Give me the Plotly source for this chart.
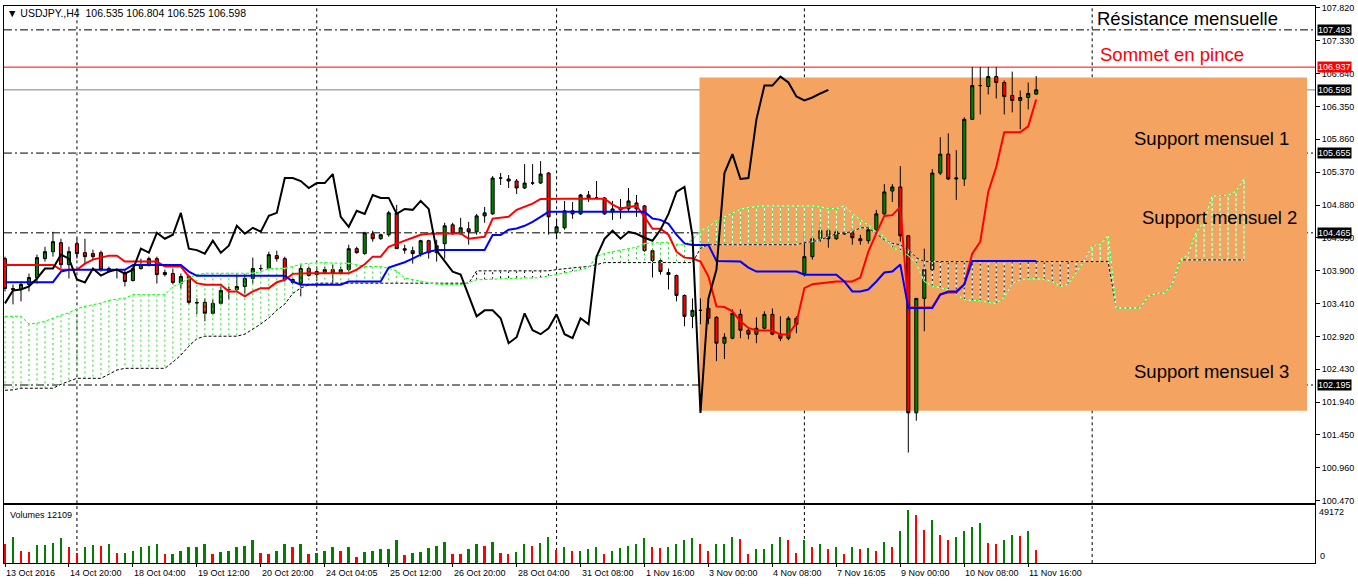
import plotly.graph_objects as go

# ------------------------------------------------------------------ data
symbol = "USDJPY.,H4"
x_tick_labels = ["13 Oct 2016", "14 Oct 20:00", "18 Oct 04:00", "19 Oct 12:00", "20 Oct 20:00",
                 "24 Oct 04:05", "25 Oct 12:00", "26 Oct 20:00", "28 Oct 04:00", "31 Oct 08:00",
                 "1 Nov 16:00", "3 Nov 00:00", "4 Nov 08:00", "7 Nov 16:05", "9 Nov 00:00",
                 "10 Nov 08:00", "11 Nov 16:00"]
price_ticks = [100.470, 100.960, 101.450, 101.940, 102.430, 102.920, 103.410, 103.900,
               104.390, 104.880, 105.370, 105.860, 106.350, 106.840, 107.330, 107.820]

opens = [
    104.080, 103.635, 103.620, 103.695, 103.798, 104.080, 104.184, 104.318, 103.991, 104.303,
    104.169, 104.155, 104.169, 103.932, 103.917, 103.873, 103.754, 103.932, 103.991, 104.080,
    103.873, 103.858, 103.709, 103.813, 103.428, 103.428, 103.264, 103.413, 103.620, 103.620,
    103.665, 103.784, 103.932, 103.932, 104.125, 104.080, 103.769, 103.709, 103.932, 103.843,
    103.873, 103.917, 103.858, 103.917, 104.229, 104.155, 104.451, 104.377, 104.437, 104.763,
    104.229, 104.199, 104.155, 104.348, 104.169, 104.303, 104.585, 104.451, 104.526, 104.481,
    104.718, 104.748, 105.282, 105.268, 105.238, 105.134, 105.208, 105.208, 105.357, 104.466,
    104.540, 104.793, 104.748, 105.030, 104.986, 104.986, 104.778, 104.837, 104.822, 104.911,
    104.867, 104.199, 104.051, 103.873, 103.828, 103.531, 103.220, 103.309, 103.338, 103.205,
    102.819, 102.893, 103.249, 103.012, 102.953, 103.042, 103.249, 102.953, 102.893, 103.190,
    103.858, 104.110, 104.377, 104.496, 104.377, 104.466, 104.466, 104.377, 104.348, 104.511,
    104.748, 105.089, 105.149, 104.422, 101.780, 103.487, 103.917, 105.357, 105.639, 105.268,
    105.268, 106.158, 106.662, 106.648, 106.796, 106.707, 106.514, 106.440, 106.484, 106.535,
]
highs = [
    104.110, 103.695, 103.739, 103.858, 104.140, 104.258, 104.481, 104.377, 104.258, 104.377,
    104.377, 104.214, 104.199, 103.962, 103.932, 103.917, 103.991, 104.080, 104.110, 104.110,
    103.917, 103.932, 103.858, 103.843, 103.487, 103.487, 103.472, 103.665, 103.665, 103.843,
    103.858, 104.095, 103.991, 104.184, 104.199, 104.110, 103.784, 104.006, 103.962, 103.932,
    103.962, 103.991, 103.962, 104.288, 104.258, 104.481, 104.496, 104.451, 104.793, 104.882,
    104.288, 104.258, 104.362, 104.362, 104.362, 104.615, 104.615, 104.689, 104.629, 104.748,
    104.852, 105.312, 105.357, 105.327, 105.268, 105.490, 105.490, 105.535, 105.371, 104.659,
    104.941, 104.926, 105.045, 105.089, 105.238, 105.000, 104.941, 104.971, 105.134, 105.030,
    104.882, 104.229, 104.080, 103.932, 103.843, 103.546, 103.487, 103.487, 103.472, 103.220,
    102.968, 103.324, 103.324, 103.042, 103.205, 103.294, 103.338, 103.220, 103.220, 103.220,
    104.481, 104.585, 104.644, 104.540, 104.511, 104.496, 104.540, 104.437, 104.555, 104.808,
    105.193, 105.193, 105.460, 104.422, 103.487, 104.229, 105.416, 105.891, 105.950, 105.698,
    106.188, 106.937, 106.937, 106.937, 106.937, 106.737, 106.870, 106.588, 106.707, 106.804,
]
lows = [
    103.591, 103.398, 103.442, 103.591, 103.709, 104.036, 104.110, 103.932, 103.784, 104.080,
    103.991, 104.066, 103.887, 103.873, 103.784, 103.665, 103.739, 103.917, 103.962, 103.709,
    103.813, 103.695, 103.635, 103.398, 103.249, 103.146, 103.249, 103.398, 103.472, 103.591,
    103.561, 103.709, 103.887, 103.917, 104.036, 103.739, 103.695, 103.517, 103.813, 103.784,
    103.858, 103.709, 103.858, 103.887, 104.155, 104.140, 104.333, 104.362, 104.407, 104.229,
    104.155, 104.006, 104.110, 104.080, 104.036, 104.080, 104.437, 104.437, 104.288, 104.437,
    104.615, 104.733, 105.179, 105.134, 105.045, 105.119, 105.179, 105.193, 104.437, 104.377,
    104.511, 104.674, 104.733, 104.926, 104.971, 104.733, 104.659, 104.674, 104.778, 104.704,
    104.184, 103.798, 103.843, 103.620, 103.442, 103.071, 103.042, 103.101, 103.101, 102.552,
    102.582, 102.878, 102.893, 102.878, 102.819, 103.027, 102.938, 102.849, 102.864, 102.968,
    103.813, 104.066, 104.333, 104.244, 104.362, 104.437, 104.288, 104.288, 104.303, 104.481,
    104.733, 104.926, 104.333, 101.187, 101.662, 102.997, 103.887, 105.327, 105.253, 104.956,
    105.164, 106.158, 106.232, 106.529, 106.469, 106.232, 106.262, 106.009, 106.306, 106.525,
]
closes = [
    103.635, 103.620, 103.695, 103.798, 104.095, 104.184, 104.333, 103.991, 104.184, 104.155,
    104.110, 104.110, 103.917, 103.887, 103.913, 103.739, 103.932, 103.991, 104.080, 103.843,
    103.843, 103.724, 103.813, 103.428, 103.420, 103.264, 103.413, 103.606, 103.620, 103.665,
    103.784, 103.932, 103.932, 104.140, 104.080, 103.769, 103.724, 103.932, 103.828, 103.887,
    103.917, 103.858, 103.917, 104.229, 104.169, 104.466, 104.377, 104.437, 104.763, 104.229,
    104.207, 104.155, 104.348, 104.169, 104.273, 104.570, 104.451, 104.540, 104.481, 104.718,
    104.763, 105.282, 105.282, 105.238, 105.134, 105.208, 105.208, 105.342, 104.704, 104.555,
    104.793, 104.748, 105.030, 104.986, 104.986, 104.748, 104.822, 104.808, 104.941, 104.822,
    104.199, 104.051, 103.887, 103.843, 103.531, 103.220, 103.309, 103.309, 103.190, 102.819,
    102.908, 103.264, 103.012, 102.953, 103.042, 103.249, 102.953, 102.893, 103.190, 103.101,
    104.110, 104.377, 104.496, 104.377, 104.481, 104.451, 104.392, 104.348, 104.511, 104.748,
    105.075, 105.149, 104.422, 101.780, 103.487, 103.917, 105.357, 105.639, 105.268, 105.282,
    106.158, 106.662, 106.662, 106.796, 106.707, 106.499, 106.440, 106.484, 106.544, 106.598,
]
volumes = [
    16900, 24000, 10400, 9500, 16600, 16700, 18700, 23300, 15000, 8600,
    14100, 16200, 15900, 17800, 8600, 8700, 11300, 14100, 15900, 17800,
    7700, 7800, 10400, 14100, 14200, 17800, 7700, 9500, 11300, 14100,
    15900, 20600, 8600, 7700, 11300, 16900, 15000, 16900, 7700, 8600,
    11300, 14100, 11300, 15000, 4900, 9500, 11300, 12300, 12400, 20600,
    6700, 8600, 9500, 13200, 15900, 19600, 7700, 7600, 12300, 16900,
    15900, 19600, 8600, 7700, 9500, 17800, 15900, 18700, 24200, 12000,
    14100, 10400, 11300, 12300, 15000, 7700, 11300, 13200, 15900, 16900,
    23300, 15000, 13200, 15000, 17800, 21500, 23300, 17800, 10400, 16900,
    17000, 24200, 22400, 7700, 12300, 12400, 17800, 24200, 20600, 8600,
    20600, 15000, 16900, 12300, 15000, 7700, 14100, 12300, 13200, 11300,
    19600, 15000, 29800, 49172, 44500, 30700, 39900, 26100, 21500, 24200,
    29800, 33500, 37200, 18700, 16900, 21500, 26100, 25200, 29800, 12109,
]
tenkan = [
    103.987, 103.987, 103.987, 103.987, 103.987, 103.987, 103.987, 103.913, 103.913, 103.913,
    104.006, 104.066, 104.095, 104.125, 104.125, 104.036, 104.036, 104.036, 104.036, 104.036,
    103.962, 103.962, 103.962, 103.813, 103.714, 103.690, 103.690, 103.690, 103.591, 103.591,
    103.517, 103.591, 103.640, 103.640, 103.729, 103.764, 103.853, 103.862, 103.862, 103.862,
    103.862, 103.862, 103.862, 103.862, 103.917, 103.996, 104.110, 104.110, 104.258, 104.307,
    104.348, 104.392, 104.437, 104.451, 104.456, 104.456, 104.456, 104.456, 104.377, 104.392,
    104.407, 104.678, 104.689, 104.704, 104.808, 104.852, 104.901, 104.971, 104.975, 104.975,
    104.975, 104.975, 104.975, 104.975, 104.975, 104.975, 104.886, 104.827, 104.852, 104.867,
    104.704, 104.526, 104.526, 104.437, 104.184, 104.095, 104.085, 104.036, 103.813, 103.368,
    103.358, 103.294, 103.146, 103.046, 103.008, 103.008, 103.008, 102.948, 102.948, 103.120,
    103.640, 103.699, 103.714, 103.729, 103.739, 103.739, 103.739, 103.798, 104.184, 104.456,
    104.718, 104.729, 104.852, 103.353, 103.353, 103.353, 103.353, 103.546, 103.576, 103.576,
    103.695, 104.155, 104.333, 105.075, 105.446, 105.965, 105.965, 105.965, 106.054, 106.455,
]
kijun = [
    103.729, 103.729, 103.729, 103.729, 103.729, 103.729, 103.729, 103.887, 103.913, 103.913,
    103.913, 103.913, 103.913, 103.913, 103.913, 103.913, 103.987, 103.987, 103.987, 103.987,
    103.987, 103.987, 103.987, 103.887, 103.824, 103.824, 103.824, 103.824, 103.824, 103.824,
    103.824, 103.824, 103.824, 103.824, 103.824, 103.824, 103.739, 103.690, 103.690, 103.690,
    103.690, 103.690, 103.690, 103.739, 103.739, 103.739, 103.739, 103.739, 103.947, 103.987,
    104.026, 104.080, 104.140, 104.184, 104.210, 104.210, 104.210, 104.210, 104.210, 104.210,
    104.210, 104.432, 104.432, 104.511, 104.530, 104.570, 104.629, 104.704, 104.778, 104.778,
    104.778, 104.778, 104.778, 104.778, 104.778, 104.778, 104.778, 104.778, 104.778, 104.778,
    104.778, 104.678, 104.659, 104.600, 104.437, 104.307, 104.284, 104.284, 104.284, 104.046,
    104.046, 104.046, 104.036, 103.947, 103.887, 103.887, 103.887, 103.887, 103.887, 103.887,
    103.839, 103.839, 103.839, 103.839, 103.839, 103.739, 103.591, 103.591, 103.620, 103.739,
    103.873, 103.887, 103.991, 103.343, 103.343, 103.343, 103.343, 103.546, 103.591, 103.591,
    103.695, 104.046, 104.046, 104.046, 104.046, 104.046, 104.046, 104.046, 104.046, 104.046,
]
senkou_a = [
    103.220, 103.220, 103.220, 103.105, 103.116, 103.146, 103.195, 103.235, 103.272, 103.331,
    103.368, 103.393, 103.417, 103.457, 103.479, 103.491, 103.542, 103.542, 103.542, 103.542,
    103.542, 103.665, 103.714, 103.788, 103.839, 103.862, 103.862, 103.862, 103.862, 103.862,
    103.862, 103.862, 103.887, 103.928, 103.936, 103.936, 103.962, 103.996, 104.011, 104.021,
    104.021, 104.014, 104.011, 104.011, 103.991, 103.962, 103.962, 103.962, 103.936, 103.898,
    103.791, 103.769, 103.747, 103.724, 103.699, 103.695, 103.690, 103.690, 103.724, 103.764,
    103.769, 103.773, 103.788, 103.791, 103.791, 103.791, 103.791, 103.798, 103.821, 103.843,
    103.865, 103.887, 103.913, 103.947, 104.110, 104.159, 104.180, 104.199, 104.221, 104.251,
    104.307, 104.307, 104.318, 104.325, 104.293, 104.284, 104.362, 104.496, 104.555, 104.644,
    104.704, 104.753, 104.818, 104.842, 104.856, 104.867, 104.867, 104.867, 104.867, 104.867,
    104.867, 104.867, 104.852, 104.827, 104.827, 104.867, 104.753, 104.655, 104.580, 104.481,
    104.407, 104.244, 104.199, 104.125, 104.006, 103.739, 103.672, 103.643, 103.620, 103.546,
    103.472, 103.457, 103.453, 103.428, 103.413, 103.502, 103.709, 103.764, 103.779, 103.779,
    103.773, 103.739, 103.665, 103.699, 103.873, 104.043, 104.273, 104.284, 104.432, 103.343,
    103.343, 103.343, 103.343, 103.517, 103.561, 103.566, 103.690, 104.061, 104.140, 104.474,
    104.629, 105.015, 105.015, 105.026, 105.085, 105.272,
]
senkou_b = [
    102.117, 102.122, 102.147, 102.147, 102.147, 102.147, 102.147, 102.206, 102.245, 102.295,
    102.295, 102.295, 102.295, 102.355, 102.418, 102.444, 102.444, 102.444, 102.444, 102.444,
    102.444, 102.537, 102.641, 102.774, 102.886, 102.923, 102.923, 102.923, 102.923, 102.923,
    102.953, 103.027, 103.105, 103.195, 103.309, 103.402, 103.561, 103.643, 103.687, 103.714,
    103.714, 103.714, 103.714, 103.714, 103.714, 103.714, 103.714, 103.714, 103.714, 103.714,
    103.714, 103.714, 103.714, 103.714, 103.714, 103.714, 103.714, 103.714, 103.714, 103.898,
    103.898, 103.898, 103.898, 103.898, 103.898, 103.898, 103.898, 103.898, 103.898, 103.917,
    103.932, 103.947, 103.954, 103.962, 103.996, 104.021, 104.021, 104.021, 104.021, 104.021,
    104.021, 104.021, 104.021, 104.021, 104.021, 104.021, 104.021, 104.233, 104.288, 104.288,
    104.288, 104.288, 104.288, 104.288, 104.288, 104.288, 104.288, 104.288, 104.288, 104.288,
    104.318, 104.333, 104.362, 104.407, 104.451, 104.466, 104.481, 104.540, 104.540, 104.451,
    104.362, 104.307, 104.288, 104.214, 104.095, 104.036, 104.036, 104.036, 104.036, 104.036,
    104.036, 104.036, 104.036, 104.036, 104.036, 104.036, 104.036, 104.036, 104.036, 104.036,
    104.036, 104.036, 104.036, 104.036, 104.036, 104.036, 104.036, 104.036, 104.036, 103.343,
    103.343, 103.343, 103.343, 103.517, 103.561, 103.566, 103.690, 104.061, 104.061, 104.061,
    104.061, 104.061, 104.061, 104.061, 104.061, 104.061,
]
chikou_shift = 26
resistance_level = 107.493
pinch_top_level = 106.937
support_levels = [105.655, 104.465, 102.195]
zone_bars = [86.875, 162.875]
zone_prices = [101.810, 106.781]
week_start_bars = [9, 39, 69, 100, 136]

assert len(opens) == len(highs) == len(lows) == len(closes) == len(volumes) == 130
assert len(tenkan) == len(kijun) == 130
assert len(senkou_a) == len(senkou_b) == 156

# ------------------------------------------------------------------ geometry / style
W, H = 1358, 584
ML, MR, MT, MB = 3, 43, 3, 21
PW, PH = W - ML - MR, H - MT - MB
FONT = "Liberation Sans, Arial, sans-serif"


def py(pix):
    return (H - MB - pix) / PH


def px(pix):
    return (pix - ML) / PW


n = len(closes)
bars = list(range(n))
cloud_x = list(range(len(senkou_a)))
GREEN, RED, LIME = "#008000", "#ff0000", "#00ff00"
DOT = "3px,2px"
HATCH_DOT = "2px,3px"

fig = go.Figure()

# --- kumo hatch
wx, wy, ux, uy, dx, dy = [], [], [], [], [], []
for i, (a, b) in enumerate(zip(senkou_a, senkou_b)):
    if abs(a - b) < 1e-9:
        continue
    if zone_bars[0] <= i <= zone_bars[1]:
        wx += [i, i, None]
        wy += [a, b, None]
    if a > b:
        ux += [i, i, None]
        uy += [a, b, None]
    else:
        dx += [i, i, None]
        dy += [a, b, None]
fig.add_trace(go.Scatter(x=wx, y=wy, mode="lines", line=dict(color="white", width=1)))
fig.add_trace(go.Scatter(x=ux, y=uy, mode="lines", line=dict(color="#22dd22", width=1, dash=HATCH_DOT)))
fig.add_trace(go.Scatter(x=dx, y=dy, mode="lines", line=dict(color="black", width=1, dash=HATCH_DOT)))

# --- senkou span lines
for vals, col in ((senkou_b, "black"), (senkou_a, LIME)):
    fig.add_trace(go.Scatter(x=cloud_x, y=vals, mode="lines", line=dict(color="white", width=1)))
    fig.add_trace(go.Scatter(x=cloud_x, y=vals, mode="lines",
                             line=dict(color=col, width=1, dash=DOT)))

# --- candles
fig.add_trace(go.Candlestick(
    x=bars, open=opens, high=highs, low=lows, close=closes,
    increasing=dict(fillcolor=GREEN, line=dict(color="black", width=1)),
    decreasing=dict(fillcolor=RED, line=dict(color="black", width=1)),
    whiskerwidth=0))

# --- tenkan / kijun / chikou
fig.add_trace(go.Scatter(x=bars, y=tenkan, mode="lines", line=dict(color="#ff0000", width=2)))
fig.add_trace(go.Scatter(x=bars, y=kijun, mode="lines", line=dict(color="#0000ff", width=2)))
fig.add_trace(go.Scatter(x=bars[:n - chikou_shift], y=closes[chikou_shift:], mode="lines",
                         line=dict(color="black", width=2)))

# --- volumes
vol_colors = [RED] + [GREEN if volumes[i] > volumes[i - 1] else RED for i in range(1, n)]
fig.add_trace(go.Bar(x=bars, y=volumes, width=0.22, marker=dict(color=vol_colors, line=dict(width=0)),
                     xaxis="x2", yaxis="y2"))

# ------------------------------------------------------------------ shapes
shapes = []
shapes.append(dict(type="rect", xref="x", yref="y", x0=zone_bars[0], x1=zone_bars[1],
                   y0=zone_prices[0], y1=zone_prices[1], fillcolor="#F4A460",
                   line=dict(width=0), layer="below"))
for b in week_start_bars:
    for yr in ("y", "y2"):
        shapes.append(dict(type="line", xref="x", yref=yr + " domain", x0=b, x1=b, y0=0, y1=1,
                           line=dict(color="black", width=1, dash="3px,3px"), layer="below"))
for lvl in [resistance_level] + support_levels:
    shapes.append(dict(type="line", xref="paper", yref="y", x0=0, x1=1, y0=lvl, y1=lvl,
                       line=dict(color="white", width=1), layer="below"))
    shapes.append(dict(type="line", xref="paper", yref="y", x0=0, x1=1, y0=lvl, y1=lvl,
                       line=dict(color="black", width=1, dash="8px,3px,2px,3px"), layer="below"))
shapes.append(dict(type="line", xref="paper", yref="y", x0=0, x1=1, y0=pinch_top_level,
                   y1=pinch_top_level, line=dict(color="#ff0000", width=1), layer="below"))
shapes.append(dict(type="line", xref="paper", yref="y", x0=0, x1=1, y0=closes[-1],
                   y1=closes[-1], line=dict(color="#808080", width=1), layer="below"))

# ------------------------------------------------------------------ annotations
ann = []
small = dict(family=FONT, size=9, color="black")
header = f"▼ {symbol}  {opens[-1]:.3f} {highs[-1]:.3f} {lows[-1]:.3f} {closes[-1]:.3f}"
ann.append(dict(text=header, xref="paper", yref="paper", x=px(4), y=py(10.5), xanchor="left",
                yanchor="middle", showarrow=False, font=dict(family=FONT, size=10.5, color="black")))
ann.append(dict(text=f"Volumes {volumes[-1]}", xref="paper", yref="paper", x=px(7), y=py(515),
                xanchor="left", yanchor="middle", showarrow=False, font=small))
ann.append(dict(text=f"{max(volumes)}", xref="paper", yref="paper", x=1, xshift=2, y=py(512),
                xanchor="left", yanchor="middle", showarrow=False, font=small))
ann.append(dict(text="0", xref="paper", yref="paper", x=1, xshift=3, y=py(556),
                xanchor="left", yanchor="middle", showarrow=False, font=small))
for k, lab in enumerate(x_tick_labels):
    ann.append(dict(text=lab, xref="x", yref="paper", x=8 * k, xshift=-1, y=0, yshift=-3,
                    xanchor="left", yanchor="top", showarrow=False, font=small))
for lvl, bg in ([(resistance_level, "black"), (pinch_top_level, "#ff0000"), (closes[-1], "black")]
                + [(s, "black") for s in support_levels]):
    ann.append(dict(text=f"{lvl:.3f}", xref="paper", yref="y", x=1, xshift=2, y=lvl,
                    xanchor="left", yanchor="middle", showarrow=False, bgcolor=bg, borderpad=0,
                    font=dict(family=FONT, size=9, color="white")))
big = dict(family=FONT, size=18.5, color="black")
texts = [("Résistance mensuelle", 1095, 16, "black"), ("Sommet en pince", 1098, 52, "#ff0000"),
         ("Support mensuel 1", 1132, 136, "black"), ("Support mensuel 2", 1140, 216, "black"),
         ("Support mensuel 3", 1132, 370, "black")]
for t, x0, y0, c in texts:
    ann.append(dict(text=t, xref="paper", yref="paper", x=px(x0), y=py(y0), xanchor="left",
                    yanchor="middle", showarrow=False, font=dict(big, color=c)))

# ------------------------------------------------------------------ layout
xr = [-0.125, -0.125 + PW / 8.0]
fig.update_layout(
    width=W, height=H, margin=dict(l=ML, r=MR, t=MT, b=MB),
    paper_bgcolor="white", plot_bgcolor="white", showlegend=False, hovermode=False,
    boxgap=0.45, bargap=0,
    xaxis=dict(domain=[0, 1], anchor="y", range=xr, showgrid=False, zeroline=False,
               showticklabels=False, ticks="", showline=True, mirror=True, linecolor="black",
               linewidth=1, rangeslider=dict(visible=False), fixedrange=True),
    yaxis=dict(domain=[py(503), 1], anchor="x", side="right", range=[100.430, 107.849],
               tickvals=price_ticks, ticktext=[f"{v:.3f}" for v in price_ticks],
               ticks="outside", ticklen=4, tickcolor="black", showgrid=False, zeroline=False,
               showline=True, mirror=True, linecolor="black", linewidth=1,
               tickfont=small),
    xaxis2=dict(domain=[0, 1], anchor="y2", matches="x", range=xr, showgrid=False, zeroline=False,
                tickvals=[8 * k for k in range(len(x_tick_labels))], showticklabels=False,
                ticks="outside", ticklen=3, tickcolor="black", showline=True, mirror=True,
                linecolor="black", linewidth=1),
    yaxis2=dict(domain=[0, py(505)], anchor="x2", side="right", range=[0, 53500],
                showticklabels=False, ticks="", showgrid=False, zeroline=False,
                showline=True, mirror=True, linecolor="black", linewidth=1),
    shapes=shapes, annotations=ann,
)

fig.write_html("out.html", config={"displayModeBar": False},
               post_script="document.body.style.margin='0';document.body.style.padding='0';"
                           "document.documentElement.style.overflow='hidden';")
